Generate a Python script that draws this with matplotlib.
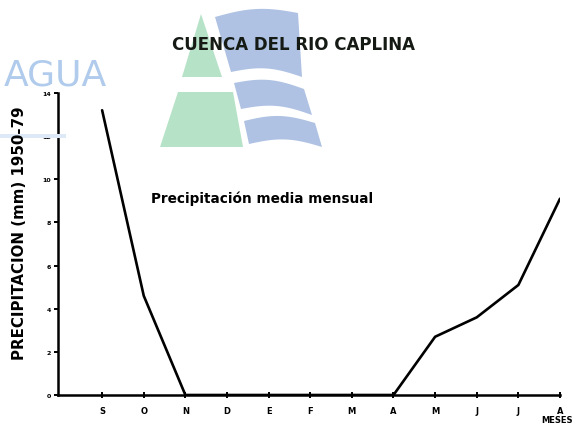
import matplotlib
matplotlib.use("Agg")
import matplotlib.pyplot as plt
from matplotlib.patches import Polygon
import numpy as np

# Mean monthly precipitation, hydrological year September-August (1950-79)
meses = ["S", "O", "N", "D", "E", "F", "M", "A", "M", "J", "J", "A"]
precipitacion = [13.2, 4.6, 0.0, 0.0, 0.0, 0.0, 0.0, 0.0, 2.7, 3.6, 5.1, 9.1]
y_ticks = [0, 2, 4, 6, 8, 10, 12, 14]
y_ticklabels = ["0", "2", "4", "6", "8", "10", "12", "14"]

W, H = 581, 431
fig = plt.figure(figsize=(W / 100, H / 100), dpi=100)
fig.patch.set_facecolor("white")


def fx(px):
    return px / W


def fy(py):
    return 1 - py / H


def add_shape(pts, color, alpha=1.0):
    fig.patches.append(Polygon([(fx(x), fy(y)) for x, y in pts], closed=True,
                               transform=fig.transFigure, facecolor=color,
                               edgecolor="none", alpha=alpha, zorder=0))


# Faded "AGUA" emblem behind the chart
green = "#b6e2c7"
blue = "#afc2e3"
add_shape([(201, 15), (182, 78), (222, 78)], green)
add_shape([(178, 93), (233, 93), (243, 148), (160, 148)], green)


def wave_band(xl_top, yl_top, xr_top, yr_top, xl_bot, yl_bot, xr_bot, yr_bot, amp):
    # Band with wavy top/bottom edges
    t = np.linspace(0, 1, 50)
    xt = xl_top + (xr_top - xl_top) * t
    yt = yl_top + (yr_top - yl_top) * t - amp * np.sin(np.pi * t)
    xb = xl_bot + (xr_bot - xl_bot) * t
    yb = yl_bot + (yr_bot - yl_bot) * t - amp * np.sin(np.pi * t)
    return list(zip(xt, yt)) + list(zip(xb[::-1], yb[::-1]))


add_shape(wave_band(215, 18, 298, 14, 231, 73, 302, 78, 6), blue)
add_shape(wave_band(234, 84, 304, 90, 241, 110, 312, 116, 6), blue)
add_shape(wave_band(244, 122, 315, 124, 249, 145, 322, 148, 6), blue)

fig.text(fx(4), fy(76), "AGUA", color="#b0cbec", fontsize=26,
         family=["Liberation Sans Narrow", "DejaVu Sans"],
         ha="left", va="center", zorder=0)
add_shape([(0, 135), (66, 135), (66, 139), (0, 139)], "#dde9f6")

# Chart axes
ax = fig.add_axes([fx(58), fy(396), fx(560) - fx(58), fy(94) - fy(396)])
ax.patch.set_alpha(0)
x = np.arange(len(meses))
ax.plot(x, precipitacion, color="black", lw=1.9, solid_joinstyle="round",
        solid_capstyle="round", zorder=3)

ax.set_xlim(-1.06, len(meses) - 1)
ax.set_ylim(0, 14)
for s in ("top", "right"):
    ax.spines[s].set_visible(False)
for s in ("left", "bottom"):
    ax.spines[s].set_linewidth(1.8)
    ax.spines[s].set_color("black")

ax.set_xticks(x)
ax.set_xticklabels(meses, fontsize=6, fontweight="bold")
ax.set_yticks(y_ticks)
ax.set_yticklabels(y_ticklabels, fontsize=4.5, fontweight="bold")
ax.tick_params(axis="x", direction="inout", length=4, width=1.4, pad=6)
ax.tick_params(axis="y", direction="out", length=3, width=1.4, pad=2)

fig.text(fx(20), fy(233), "PRECIPITACION (mm) 1950-79", fontsize=10.8,
         fontweight="bold", rotation=90, ha="center", va="center")
fig.text(fx(293), fy(45), "CUENCA DEL RIO CAPLINA", fontsize=12,
         fontweight="bold", ha="center", va="center", color="#151a15")
fig.text(fx(151), fy(199), "Precipitación media mensual", fontsize=9.8,
         fontweight="bold", ha="left", va="center")
fig.text(fx(557), fy(421), "MESES", fontsize=6, fontweight="bold",
         ha="center", va="center")

fig.savefig("out.png", dpi=100, facecolor="white")
